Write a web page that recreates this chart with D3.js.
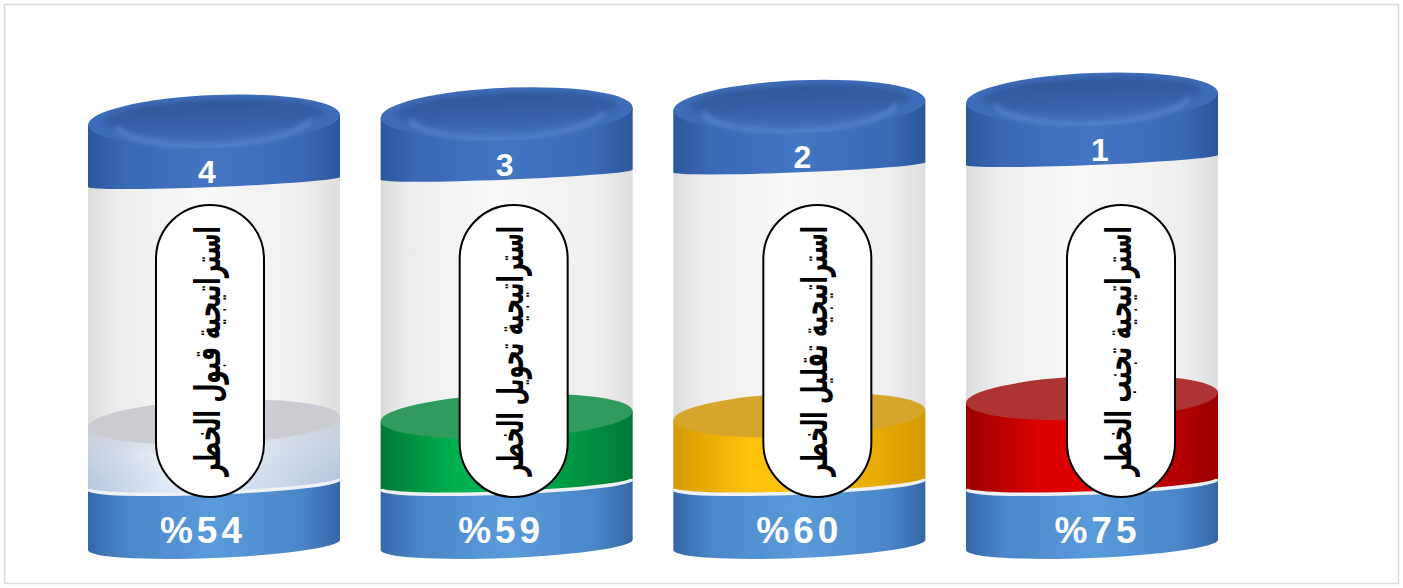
<!DOCTYPE html>
<html>
<head>
<meta charset="utf-8">
<script src="https://cdn.jsdelivr.net/npm/d3@7"></script>
<style>
  html, body { margin: 0; padding: 0; background: #ffffff; }
  svg { display: block; }
</style>
</head>
<body>
<svg id="chart" width="1403" height="588"></svg>
<script>
// ---- data ----
const ranks = ["4", "3", "2", "1"];
const strategies = [
  "استراتيجية قبول الخطر",
  "استراتيجية تحويل الخطر",
  "استراتيجية تقليل الخطر",
  "استراتيجية تجنب الخطر"
];
const values = [54, 59, 60, 75];

// ---- styles ----
const fillPalettes = [
  { top: "#c9ccd1", edge: "#a9bbd3", mid: "#f1f5fb" },
  { top: "#2f9b5c", edge: "#007a36", mid: "#00b150" },
  { top: "#d6a52b", edge: "#d49a00", mid: "#ffc20a" },
  { top: "#ae3434", edge: "#9c0000", mid: "#dc0000" }
];

const W = 1403, H = 588;
const svg = d3.select("#chart");
const defs = svg.append("defs");

svg.append("rect").attr("x", 4.5).attr("y", 4.5).attr("width", W - 9).attr("height", H - 9)
  .attr("fill", "#ffffff").attr("stroke", "#d9d9d9").attr("stroke-width", 1.5);

function hGrad(id, stops) {
  const g = defs.append("linearGradient").attr("id", id)
    .attr("x1", "0%").attr("x2", "100%").attr("y1", "0%").attr("y2", "0%");
  stops.forEach(s => g.append("stop").attr("offset", s[0]).attr("stop-color", s[1]).attr("stop-opacity", s[2] == null ? 1 : s[2]));
}
function vGrad(id, stops) {
  const g = defs.append("linearGradient").attr("id", id)
    .attr("x1", "0%").attr("x2", "0%").attr("y1", "0%").attr("y2", "100%");
  stops.forEach(s => g.append("stop").attr("offset", s[0]).attr("stop-color", s[1]).attr("stop-opacity", s[2] == null ? 1 : s[2]));
}

hGrad("glass", [["0%", "#dcdcdc"], ["12%", "#ededed"], ["45%", "#f9f9f9"], ["85%", "#efefef"], ["100%", "#dedede"]]);
hGrad("base", [["0%", "#3567a8"], ["15%", "#4a86c8"], ["50%", "#5a9bdb"], ["85%", "#4a86c8"], ["100%", "#3567a8"]]);
hGrad("capband", [["0%", "#2c579b"], ["15%", "#3a69b6"], ["50%", "#4275c2"], ["85%", "#3a69b6"], ["100%", "#2c579b"]]);
vGrad("captop", [["0%", "#2e5796"], ["100%", "#3a66ae"]]);
fillPalettes.forEach((p, i) => {
  hGrad("fillside" + i, [["0%", p.edge], ["30%", p.mid], ["55%", p.mid], ["100%", p.edge]]);
});
vGrad("graywash", [["0%", "#cfd2d6", 0.9], ["45%", "#dde6f1", 0.5], ["100%", "#bcd3ee", 0.4]]);
defs.append("filter").attr("id", "blur3").append("feGaussianBlur").attr("stdDeviation", 2.5);

// ---- scales ----
const x = d3.scaleBand().domain(ranks).range([88, 1218]).paddingInner(0.139).paddingOuter(0);
const fillH = d3.scaleLinear().domain([0, 100]).range([0, 115]);
const capTopY = d3.scaleLinear().domain([0, ranks.length - 1]).range([120, 98]);
const R = x.bandwidth() / 2;

const baseTop = 484, baseBottom = 545;
const ryBaseTop = 9, ryBaseBottom = 13, ryFill = 22, ryCap = 25, ryCapBottom = 5, capBand = 62;
const tilt = -2.3;

function bandPath(yT, ryT, yB, ryB) {
  return `M${-R},${yT} L${-R},${yB} A${R},${ryB} 0 0 0 ${R},${yB} L${R},${yT} A${R},${ryT} 0 0 1 ${-R},${yT} Z`;
}
function cylPath(yT, yB, ryB) {
  return `M${-R},${yT} L${-R},${yB} A${R},${ryB} 0 0 0 ${R},${yB} L${R},${yT} Z`;
}
function frontArc(y, ry, r) {
  return `M${-r},${y} A${r},${ry} 0 0 0 ${r},${y}`;
}

ranks.forEach((rank, i) => {
  const cx = x(rank) + R;
  const v = values[i];
  const g = svg.append("g").attr("transform", `translate(${cx},0) skewY(${tilt})`);
  const capTop = capTopY(i);
  const capBottom = capTop + capBand;
  const fTop = baseTop - fillH(v);

  g.append("rect").attr("x", -R).attr("y", capTop).attr("width", 2 * R).attr("height", baseTop - capTop)
    .attr("fill", "url(#glass)");

  g.append("path").attr("d", bandPath(baseTop, ryBaseTop, baseBottom, ryBaseBottom)).attr("fill", "url(#base)");

  g.append("path").attr("d", bandPath(fTop, 0.001, baseTop, ryBaseTop)).attr("fill", `url(#fillside${i})`);
  if (i === 0) {
    g.append("path").attr("d", bandPath(fTop, 0.001, baseTop, ryBaseTop)).attr("fill", "url(#graywash)");
  }
  g.append("ellipse").attr("cx", 0).attr("cy", fTop).attr("rx", R).attr("ry", ryFill)
    .attr("fill", fillPalettes[i].top);

  g.append("path").attr("d", frontArc(baseTop, ryBaseTop, R)).attr("fill", "none")
    .attr("stroke", "#eef1f5").attr("stroke-width", 3.5);

  g.append("path").attr("d", cylPath(capTop, capBottom, ryCapBottom)).attr("fill", "url(#capband)");
  g.append("ellipse").attr("cx", 0).attr("cy", capTop).attr("rx", R).attr("ry", ryCap).attr("fill", "#3d6cb8");
  g.append("ellipse").attr("cx", 0).attr("cy", capTop - 3).attr("rx", R - 16).attr("ry", ryCap - 8)
    .attr("fill", "url(#captop)").attr("filter", "url(#blur3)");
  g.append("path").attr("d", frontArc(capTop + 2, ryCap - 2, R - 30)).attr("fill", "none")
    .attr("stroke", "#6f9be0").attr("stroke-width", 4).attr("opacity", 0.55).attr("filter", "url(#blur3)");

  // rank number
  svg.append("text").attr("x", cx - 7 + 5 * i).attr("y", capBottom + 1)
    .attr("text-anchor", "middle").attr("font-family", "Liberation Sans, Arial, sans-serif")
    .attr("font-weight", "bold").attr("font-size", 32).attr("fill", "#ffffff").text(rank);

  // percent label
  svg.append("text").attr("x", cx - 11 + 5.5 * i).attr("y", 543)
    .attr("text-anchor", "middle").attr("font-family", "Liberation Sans, Arial, sans-serif")
    .attr("font-weight", "bold").attr("font-size", 37).attr("letter-spacing", 4).attr("fill", "#ffffff")
    .attr("direction", "ltr").text("%" + v);

  // label pill
  const px = cx - 4 + 11 * i;
  const pTop = 205, pBottom = 497, pw = 108;
  svg.append("rect").attr("x", px - pw / 2).attr("y", pTop).attr("width", pw).attr("height", pBottom - pTop)
    .attr("rx", pw / 2).attr("ry", pw / 2).attr("fill", "#ffffff").attr("stroke", "#000000").attr("stroke-width", 2);

  const fsz = 36;
  const t = svg.append("text")
    .attr("font-family", "DejaVu Sans, Noto Sans, sans-serif")
    .attr("font-weight", "bold").attr("font-size", fsz).attr("fill", "#000000")
    .attr("text-anchor", "middle").attr("dominant-baseline", "central")
    .attr("direction", "rtl")
    .text(strategies[i]);
  const len = t.node().getComputedTextLength();
  const target = 250;
  t.attr("transform", `translate(${px - 3},${(pTop + pBottom) / 2}) rotate(-90) scale(${target / len},1)`);
});
</script>
</body>
</html>
